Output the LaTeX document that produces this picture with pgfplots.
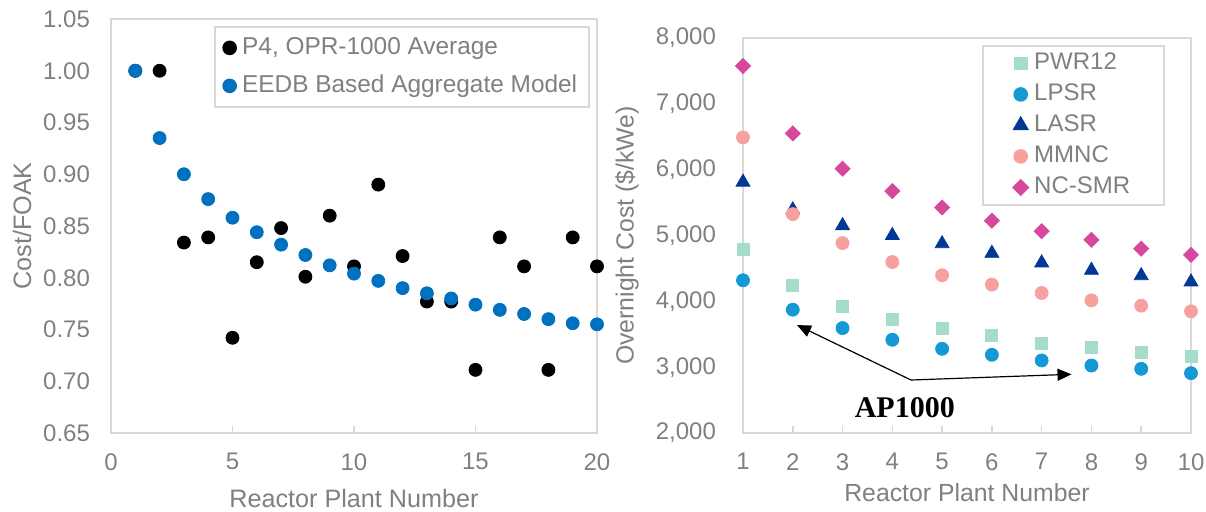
\documentclass[border=0pt]{standalone}
\usepackage{fontspec}
\setmainfont{Liberation Sans}
\newfontfamily\tnr{Liberation Serif}
\usepackage{pgfplots}
\pgfplotsset{compat=1.18}
\usetikzlibrary{arrows.meta}

\definecolor{txtgray}{RGB}{128,128,128}
\definecolor{axgray}{RGB}{217,217,217}
\definecolor{eedb}{RGB}{0,112,192}
\definecolor{pwr}{RGB}{166,220,202}
\definecolor{lpsr}{RGB}{20,153,212}
\definecolor{lasr}{RGB}{0,56,150}
\definecolor{mmnc}{RGB}{247,160,160}
\definecolor{ncsmr}{RGB}{214,72,155}

\pgfplotsset{
  mystyle/.style={
    scale only axis, clip=false,
    axis line style={axgray, line width=0.8pt},
    xtick style={axgray, line width=0.8pt},
    ytick style={draw=none},
    xtick align=inside, xtick pos=bottom, ytick pos=left,
    major tick length=3.5pt,
    tick label style={font=\fontsize{12}{14}\selectfont, text=txtgray},
    /pgf/number format/assume math mode=true,
    xticklabel style={yshift=-6.7pt},
    legend cell align=left,
    legend image code/.code={\draw[##1] plot coordinates {(0pt,0pt)};},
  },
}

\begin{document}
\begin{tikzpicture}
\path[use as bounding box] (0,0) rectangle (603pt,255.5pt);

% ---------------- Left panel ----------------
\begin{axis}[mystyle,
  at={(55.5pt,39pt)}, anchor=south west,
  width=243pt, height=207pt,
  xmin=0, xmax=20, ymin=0.65, ymax=1.05,
  xtick={0,5,10,15,20},
  ytick={0.65,0.70,0.75,0.80,0.85,0.90,0.95,1.00,1.05},
  yticklabel style={xshift=-7pt, /pgf/number format/.cd, fixed, fixed zerofill, precision=2},
  xlabel={Reactor Plant Number},
  ylabel={Cost/FOAK},
  every axis x label/.style={at={(axis description cs:0.5,-0.157)}, anchor=center,
    font=\fontsize{12.6}{15}\selectfont, text=txtgray},
  every axis y label/.style={at={(axis description cs:-0.183,0.5)}, anchor=center, rotate=90,
    font=\fontsize{12.6}{15}\selectfont, text=txtgray},
  legend style={at={(0.9856,0.983)}, anchor=north east,
    draw=axgray, line width=0.8pt, fill=white,
    font=\fontsize{12.2}{14}\selectfont, text=txtgray,
    inner xsep=4pt, inner ysep=2.75pt, row sep=3.5pt, column sep=1pt,
    nodes={inner sep=2pt, text height=9pt, text depth=2.5pt}},
]
\addplot[only marks, mark=*, mark size=3.25pt, black] coordinates {
(1,1.000) (2,1.000) (3,0.834) (4,0.839) (5,0.742) (6,0.815) (7,0.848) (8,0.801) (9,0.860) (10,0.811)
(11,0.890) (12,0.821) (13,0.777) (14,0.777) (15,0.711) (16,0.839) (17,0.811) (18,0.711) (19,0.839) (20,0.811)};
\addlegendentry{P4, OPR-1000 Average}
\addplot[only marks, mark=*, mark size=3.25pt, eedb] coordinates {
(1,1.000) (2,0.935) (3,0.900) (4,0.876) (5,0.858) (6,0.844) (7,0.832) (8,0.822) (9,0.812) (10,0.804)
(11,0.797) (12,0.790) (13,0.785) (14,0.780) (15,0.774) (16,0.769) (17,0.765) (18,0.760) (19,0.756) (20,0.755)};
\addlegendentry{EEDB Based Aggregate Model}
\end{axis}

% ---------------- Right panel ----------------
\begin{axis}[mystyle,
  at={(371.5pt,39pt)}, anchor=south west,
  width=224pt, height=197.5pt,
  xmin=1, xmax=10, ymin=2000, ymax=8000,
  xtick={1,2,3,4,5,6,7,8,9,10},
  ytick={2000,3000,4000,5000,6000,7000,8000},
  yticklabel style={xshift=-10pt, /pgf/number format/.cd, fixed, 1000 sep={,}},
  scaled y ticks=false,
  xlabel={Reactor Plant Number},
  ylabel={Overnight Cost (\$/kWe)},
  every axis x label/.style={at={(axis description cs:0.5,-0.152)}, anchor=center,
    font=\fontsize{12.4}{15}\selectfont, text=txtgray},
  every axis y label/.style={at={(axis description cs:-0.259,0.5)}, anchor=center, rotate=90,
    font=\fontsize{12.4}{15}\selectfont, text=txtgray},
  legend style={at={(0.942,0.982)}, anchor=north east,
    draw=axgray, line width=0.8pt, fill=white,
    font=\fontsize{12}{14}\selectfont, text=txtgray,
    inner xsep=15pt, inner ysep=1pt, row sep=0pt, column sep=1pt,
    nodes={inner sep=2pt, text height=9pt, text depth=2.5pt}},
]
\addplot[only marks, mark=square*, mark size=3pt, pwr, mark options={fill=pwr, draw=pwr}] coordinates {
(1,4790) (2,4244) (3,3924) (4,3731) (5,3584) (6,3482) (7,3365) (8,3300) (9,3223) (10,3162)};
\addlegendentry{PWR12}
\addplot[only marks, mark=*, mark size=3.25pt, lpsr] coordinates {
(1,4320) (2,3873) (3,3594) (4,3416) (5,3279) (6,3188) (7,3102) (8,3025) (9,2975) (10,2909)};
\addlegendentry{LPSR}
\addplot[only marks, mark=triangle*, mark size=4pt, lasr] coordinates {
(1,5810) (2,5390) (3,5150) (4,5000) (5,4875) (6,4730) (7,4584) (8,4472) (9,4390) (10,4294)};
\addlegendentry{LASR}
\addplot[only marks, mark=*, mark size=3.25pt, mmnc] coordinates {
(1,6490) (2,5325) (3,4885) (4,4597) (5,4396) (6,4254) (7,4127) (8,4015) (9,3934) (10,3848)};
\addlegendentry{MMNC}
\addplot[only marks, mark=square*, mark size=2.65pt, ncsmr, mark options={rotate=45}] coordinates {
(1,7575) (2,6550) (3,6015) (4,5675) (5,5425) (6,5225) (7,5065) (8,4935) (9,4800) (10,4705)};
\addlegendentry{NC-SMR}

\draw[-{Triangle[length=7pt,width=6pt]}, line width=0.6pt, black] (axis cs:4.375,2805) -- (axis cs:2.085,3640);
\draw[-{Triangle[length=7pt,width=6pt]}, line width=0.6pt, black] (axis cs:4.375,2805) -- (axis cs:7.60,2892);
\node[font=\tnr\bfseries\fontsize{15}{18}\selectfont, black] at (axis cs:4.25,2380) {AP1000};
\end{axis}
\end{tikzpicture}
\end{document}
